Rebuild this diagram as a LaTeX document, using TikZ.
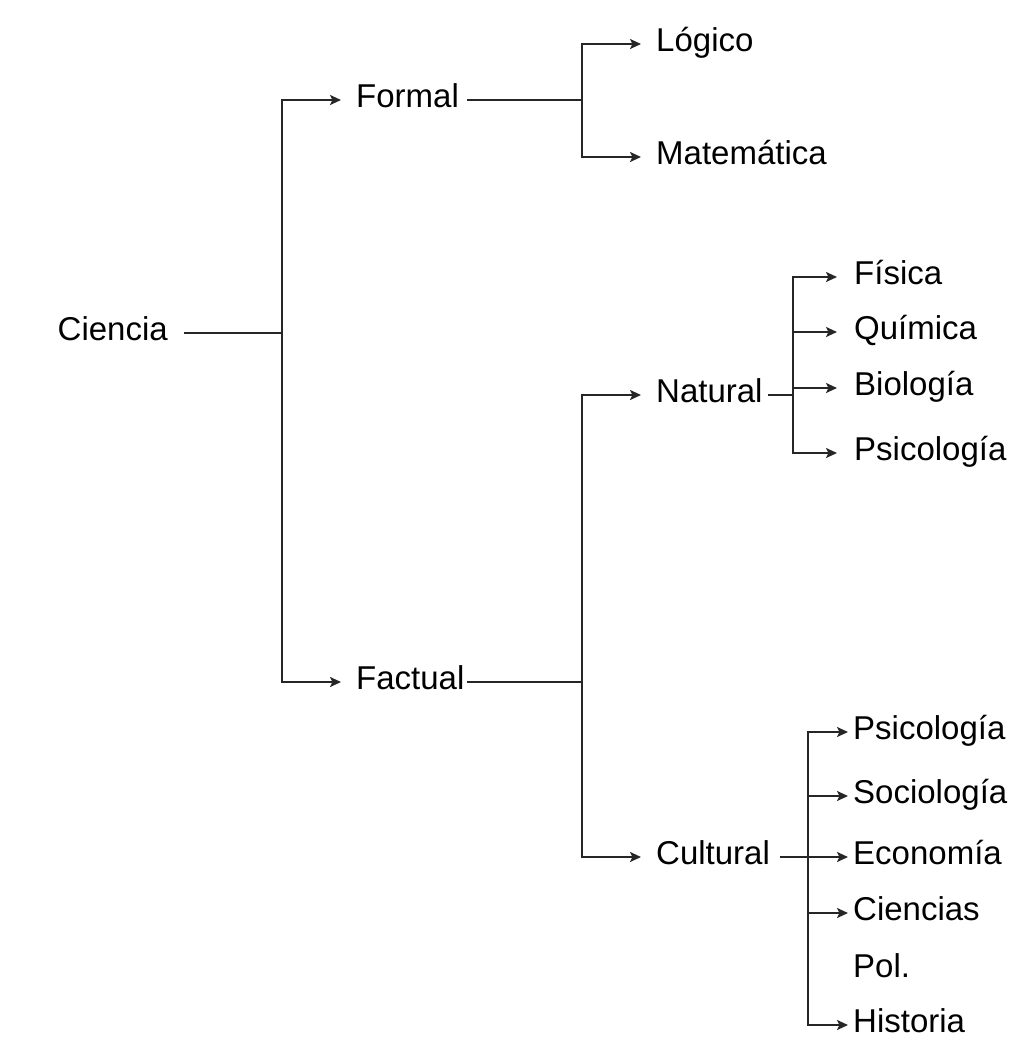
\documentclass[tikz,border=0pt]{standalone}
\usepackage{fontspec}
\setmainfont{Liberation Sans}
\usetikzlibrary{arrows.meta}
\tikzset{
  rama/.style={line width=2.4pt,black!85},
  flecha/.style={rama,shorten >=#1,-{Stealth[length=11pt,width=10pt,inset=2.5pt]}},
  flecha/.default=15pt,
  campo/.style={font=\fontsize{33}{40}\selectfont,anchor=west,inner sep=0pt,text height=22pt,text depth=8pt}
}
\begin{document}
\begin{tikzpicture}[x=1pt,y=-1pt]
  \useasboundingbox (0,0) rectangle (1027,1039);
  % nodos
  \node[campo,anchor=east] (ciencia) at (168,333) {Ciencia};
  \node[campo] (formal) at (356,100) {Formal};
  \node[campo] (factual) at (356,682) {Factual};
  \node[campo] (logico) at (656,44) {Lógico};
  \node[campo] (matematica) at (656,157) {Matemática};
  \node[campo] (natural) at (656,395) {Natural};
  \node[campo] (cultural) at (656,857) {Cultural};
  \node[campo] (fisica) at (854,277) {Física};
  \node[campo] (quimica) at (854,332) {Química};
  \node[campo] (biologia) at (854,388) {Biología};
  \node[campo] (psicnat) at (854,453) {Psicología};
  \node[campo] (psiccul) at (853,732) {Psicología};
  \node[campo] (sociologia) at (853,796) {Sociología};
  \node[campo] (economia) at (853,857) {Economía};
  \node[campo] (ciencias) at (853,913) {Ciencias};
  \node[campo] (pol) at (853,970) {Pol.};
  \node[campo] (historia) at (853,1025) {Historia};
  % uniones
  \coordinate (jc) at (282,333);
  \coordinate (jfo) at (582,100);
  \coordinate (jfa) at (582,682);
  \coordinate (jn) at (793,395);
  \coordinate (jcu) at (808,857);
  % ramas
  \draw[rama,shorten <=16pt] (ciencia.east) -- (jc);
  \draw[flecha] (jc) |- (formal.west);
  \draw[flecha] (jc) |- (factual.west);
  \draw[rama,shorten <=8pt] (formal.east) -- (jfo);
  \draw[flecha] (jfo) |- (logico.west);
  \draw[flecha] (jfo) |- (matematica.west);
  \draw[rama,shorten <=2pt] (factual.east) -- (jfa);
  \draw[flecha] (jfa) |- (natural.west);
  \draw[flecha] (jfa) |- (cultural.west);
  \draw[rama,shorten <=5pt] (natural.east) -- (jn);
  \foreach \n in {fisica,quimica,biologia,psicnat}
    \draw[flecha=17pt] (jn) |- (\n.west);
  \draw[rama,shorten <=10pt] (cultural.east) -- (jcu);
  \foreach \n in {psiccul,sociologia,economia,ciencias,historia}
    \draw[flecha=5pt] (jcu) |- (\n.west);
\end{tikzpicture}
\end{document}
